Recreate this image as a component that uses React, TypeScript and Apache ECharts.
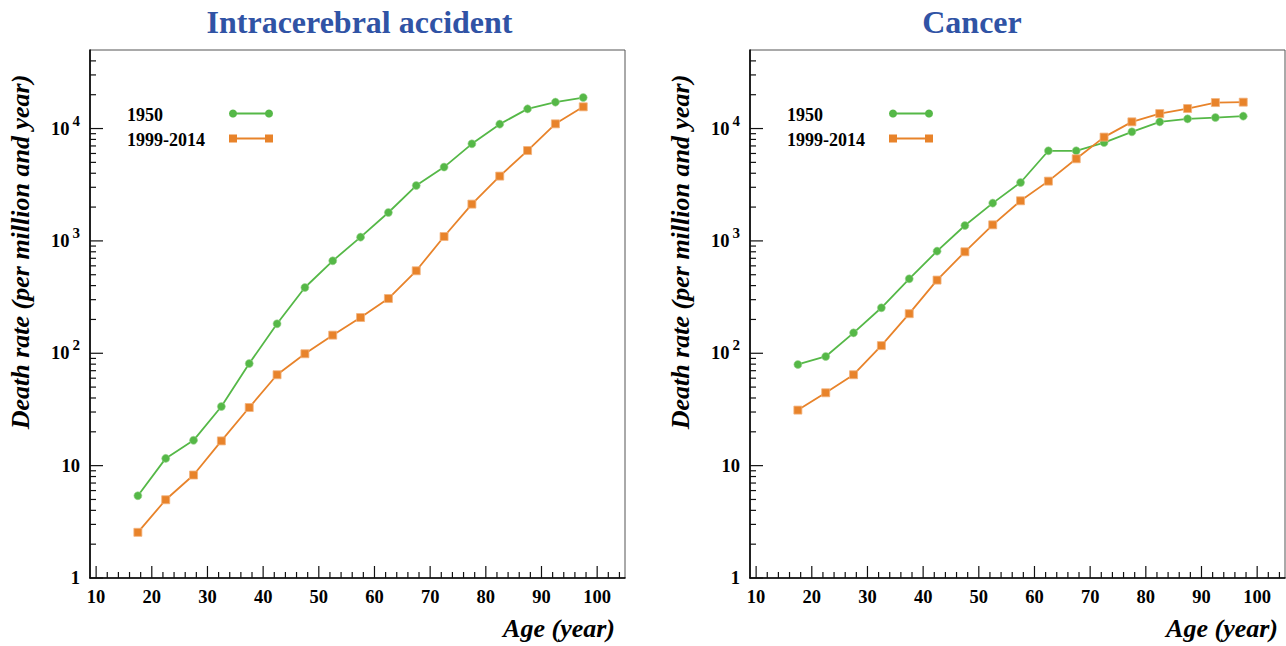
import React, { useEffect, useRef } from 'react';
import * as echarts from 'echarts';

// Age classes (middle of each 5-year bracket)
const ages = [17.5, 22.5, 27.5, 32.5, 37.5, 42.5, 47.5, 52.5, 57.5, 62.5, 67.5, 72.5, 77.5, 82.5, 87.5, 92.5, 97.5];

const seriesNames = ['1950', '1999-2014'];
const panelTitles = ['Intracerebral accident', 'Cancer'];

// Death rate per million and year, intracerebral accident
const strokeRate1950 = [5.4, 11.6, 16.8, 33.6, 81, 183, 385, 665, 1080, 1790, 3110, 4540, 7310, 10940, 14970, 17170, 18880];
const strokeRate1999 = [2.55, 4.97, 8.25, 16.6, 32.9, 64.4, 99, 145, 208, 307, 542, 1094, 2125, 3773, 6370, 11010, 15600];

// Death rate per million and year, cancer
const cancerRate1950 = [79.5, 93.7, 152, 254, 460, 811, 1371, 2170, 3310, 6340, 6340, 7500, 9350, 11470, 12200, 12530, 12890];
const cancerRate1999 = [31.2, 44.5, 64.4, 117, 225, 448, 800, 1390, 2275, 3404, 5380, 8390, 11470, 13590, 15070, 17030, 17170];

// Axis ticks
const xMajorTicks = [10, 20, 30, 40, 50, 60, 70, 80, 90, 100];
const xMinorTicks = [12, 14, 16, 18, 22, 24, 26, 28, 32, 34, 36, 38, 42, 44, 46, 48, 52, 54, 56, 58, 62, 64, 66, 68, 72, 74, 76, 78, 82, 84, 86, 88, 92, 94, 96, 98, 102, 104];
const yMajorTicks = [1, 10, 100, 1000, 10000];
const yMinorTicks = [2, 3, 4, 5, 6, 7, 8, 9, 20, 30, 40, 50, 60, 70, 80, 90, 200, 300, 400, 500, 600, 700, 800, 900, 2000, 3000, 4000, 5000, 6000, 7000, 8000, 9000, 20000, 30000, 40000];

const X_MIN = 8.9;
const X_MAX = 105;
const Y_MIN = 1;
const Y_MAX = 50000;

const FONT = '"Liberation Serif", "Times New Roman", Times, serif';
const GREEN = '#55B847';
const ORANGE = '#E8832A';
const TITLE_BLUE = '#3053A5';

const panels = [
  { title: panelTitles[0], a: strokeRate1950, b: strokeRate1999, left: 90, titleX: 359.5, ageRight: 615 },
  { title: panelTitles[1], a: cancerRate1950, b: cancerRate1999, left: 750, titleX: 972, ageRight: 1278 },
];

function tickSeries(gridIndex: number, data: number[][], dir: 'x' | 'y', len: number) {
  return {
    type: 'custom',
    xAxisIndex: gridIndex,
    yAxisIndex: gridIndex,
    silent: true,
    z: 6,
    data,
    renderItem: (_params: any, api: any) => {
      const p = api.coord([api.value(0), api.value(1)]);
      const shape = dir === 'x'
        ? { x1: p[0], y1: p[1], x2: p[0], y2: p[1] - len }
        : { x1: p[0], y1: p[1], x2: p[0] + len, y2: p[1] };
      return { type: 'line', shape, style: { stroke: '#111', lineWidth: 1.2 } };
    },
  };
}

function logLabel(v: number) {
  const e = Math.round(Math.log10(v));
  if (Math.abs(v - Math.pow(10, e)) > 1e-6 * v) return '';
  if (e === 0) return '{b|1}';
  if (e === 1) return '{b|10}';
  return '{b|10}{s|' + e + '}';
}

function buildOption() {
  const grid: any[] = [];
  const xAxis: any[] = [];
  const yAxis: any[] = [];
  const series: any[] = [];
  const graphic: any[] = [];

  panels.forEach((pnl, i) => {
    grid.push({
      left: pnl.left, top: 50, width: 535, height: 528,
      show: true, borderColor: '#555', borderWidth: 1, backgroundColor: 'transparent',
    });
    xAxis.push({
      gridIndex: i, type: 'value', min: X_MIN, max: X_MAX,
      axisLine: { show: true, onZero: false, lineStyle: { color: '#000', width: 1.6 } },
      axisTick: { show: false },
      splitLine: { show: false },
      axisLabel: {
        customValues: xMajorTicks, margin: 9,
        fontSize: 18.5, fontWeight: 'bold', fontFamily: FONT, color: '#000',
      },
    });
    yAxis.push({
      gridIndex: i, type: 'log', logBase: 10, min: Y_MIN, max: Y_MAX,
      axisLine: { show: true, onZero: false, lineStyle: { color: '#000', width: 1.6 } },
      axisTick: { show: false },
      minorTick: { show: false },
      splitLine: { show: false },
      axisLabel: {
        showMaxLabel: false, margin: 10,
        formatter: logLabel,
        rich: {
          b: { fontSize: 18.5, fontWeight: 'bold', fontFamily: FONT, color: '#000' },
          s: { fontSize: 15, fontWeight: 'bold', fontFamily: FONT, color: '#000', padding: [0, 0, 16, 3] },
        },
      },
    });

    series.push({
      name: seriesNames[0], type: 'line', xAxisIndex: i, yAxisIndex: i,
      data: ages.map((a, k) => [a, pnl.a[k]]),
      symbol: 'circle', symbolSize: 8,
      lineStyle: { color: GREEN, width: 1.8 },
      itemStyle: { color: GREEN, borderColor: '#9DD592', borderWidth: 0.6 },
      z: 3,
    });
    series.push({
      name: seriesNames[1], type: 'line', xAxisIndex: i, yAxisIndex: i,
      data: ages.map((a, k) => [a, pnl.b[k]]),
      symbol: 'rect', symbolSize: 8,
      lineStyle: { color: ORANGE, width: 1.8 },
      itemStyle: { color: ORANGE, borderColor: '#F2B27C', borderWidth: 0.8 },
      z: 4,
    });

    series.push(tickSeries(i, xMajorTicks.map((v) => [v, Y_MIN]), 'x', 12));
    series.push(tickSeries(i, xMinorTicks.map((v) => [v, Y_MIN]), 'x', 6));
    series.push(tickSeries(i, yMajorTicks.map((v) => [X_MIN, v]), 'y', 13));
    series.push(tickSeries(i, yMinorTicks.map((v) => [X_MIN, v]), 'y', 6));

    const dx = pnl.left - 90;

    // Panel title
    graphic.push({
      type: 'text', x: pnl.titleX, y: 22,
      style: { text: pnl.title, align: 'center', verticalAlign: 'middle', fontSize: 32, fontWeight: 'bold', fontFamily: FONT, fill: TITLE_BLUE },
    });
    // Axis titles
    graphic.push({
      type: 'text', x: 20 + dx, y: 252, rotation: Math.PI / 2,
      style: { text: 'Death rate (per million and year)', align: 'center', verticalAlign: 'middle', fontSize: 26, fontWeight: 'bold', fontStyle: 'italic', fontFamily: FONT, fill: '#000' },
    });
    graphic.push({
      type: 'text', x: pnl.ageRight, y: 628,
      style: { text: 'Age (year)', align: 'right', verticalAlign: 'middle', fontSize: 26, fontWeight: 'bold', fontStyle: 'italic', fontFamily: FONT, fill: '#000' },
    });

    // Legend
    const lx = 127 + dx;
    const sx1 = 233 + dx;
    const sx2 = 269 + dx;
    graphic.push({
      type: 'text', x: lx, y: 115,
      style: { text: seriesNames[0], align: 'left', verticalAlign: 'middle', fontSize: 18, fontWeight: 'bold', fontFamily: FONT, fill: '#000' },
    });
    graphic.push({ type: 'line', shape: { x1: sx1, y1: 113.5, x2: sx2, y2: 113.5 }, style: { stroke: GREEN, lineWidth: 1.8 } });
    graphic.push({ type: 'circle', shape: { cx: sx1, cy: 113.5, r: 4 }, style: { fill: GREEN } });
    graphic.push({ type: 'circle', shape: { cx: sx2, cy: 113.5, r: 4 }, style: { fill: GREEN } });

    graphic.push({
      type: 'text', x: lx, y: 140,
      style: { text: seriesNames[1], align: 'left', verticalAlign: 'middle', fontSize: 18, fontWeight: 'bold', fontFamily: FONT, fill: '#000' },
    });
    graphic.push({ type: 'line', shape: { x1: sx1, y1: 138.5, x2: sx2, y2: 138.5 }, style: { stroke: ORANGE, lineWidth: 1.8 } });
    graphic.push({ type: 'rect', shape: { x: sx1 - 4, y: 134.5, width: 8, height: 8 }, style: { fill: ORANGE } });
    graphic.push({ type: 'rect', shape: { x: sx2 - 4, y: 134.5, width: 8, height: 8 }, style: { fill: ORANGE } });
  });

  return {
    animation: false,
    backgroundColor: '#fff',
    textStyle: { fontFamily: FONT },
    grid, xAxis, yAxis, series, graphic,
  };
}

export default function App() {
  const ref = useRef<HTMLDivElement>(null);
  useEffect(() => {
    if (!ref.current) return;
    const chart = echarts.init(ref.current, undefined, { renderer: 'svg' });
    chart.setOption(buildOption() as any);
    return () => chart.dispose();
  }, []);
  return <div ref={ref} style={{ position: 'fixed', left: 0, top: 0, width: 1286, height: 646 }} />;
}
